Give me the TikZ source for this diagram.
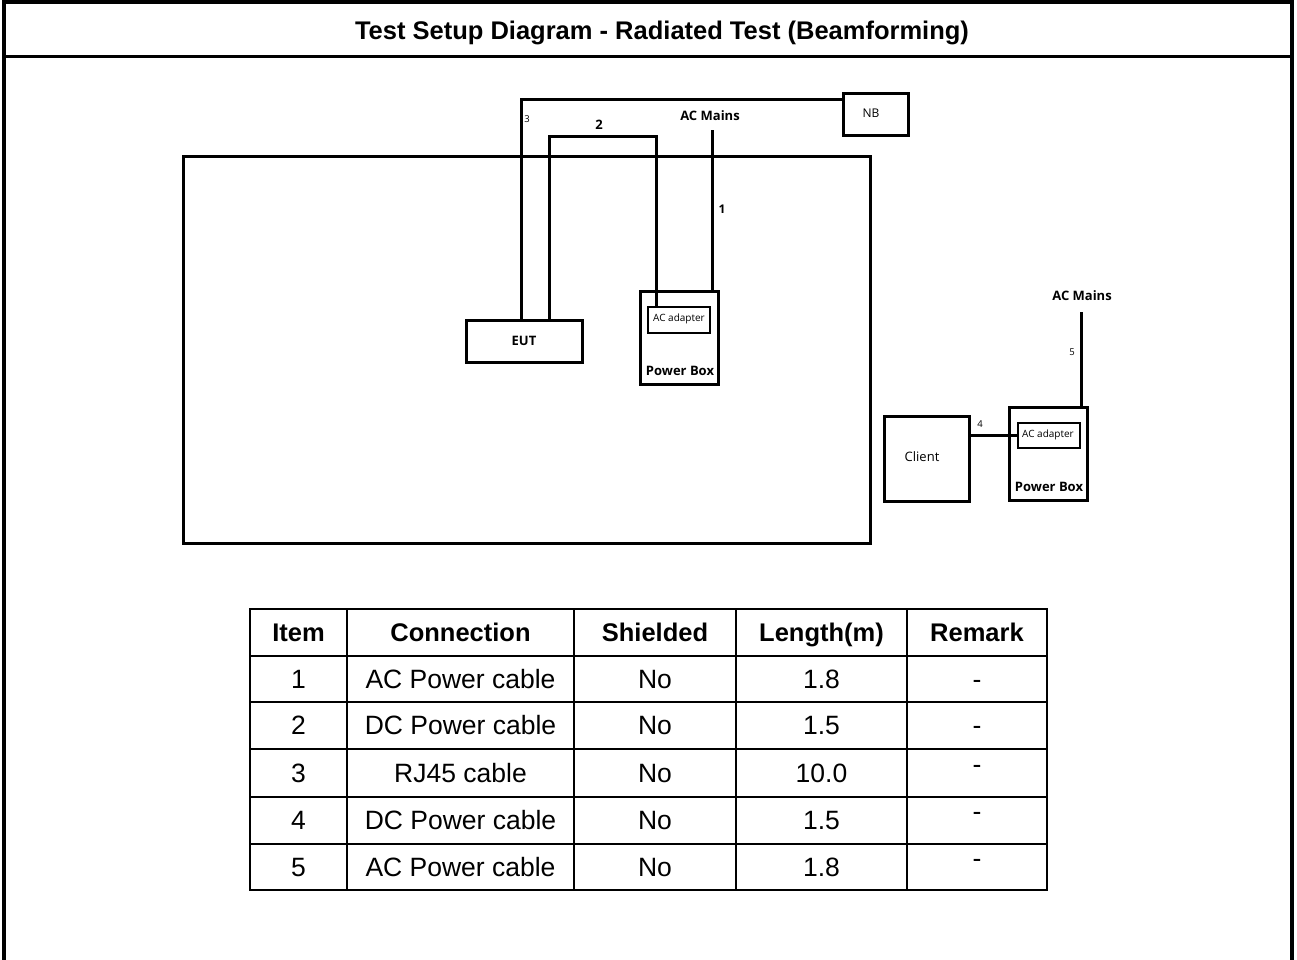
\documentclass[tikz,border=0pt]{standalone}
\usepackage{fontspec}
\setmainfont{Liberation Sans}
\newfontfamily\dfont{Open Sans}
\begin{document}
\begin{tikzpicture}[x=1pt,y=-1pt,
  box/.style={draw,line width=3pt,rectangle,inner sep=0pt,outer sep=0pt},
  cable/.style={line width=3pt},
  dlab/.style={font=\dfont\fontsize{13}{15}\selectfont,inner sep=0pt},
  dlabb/.style={font=\dfont\bfseries\fontsize{13}{15}\selectfont,inner sep=0pt},
  small/.style={font=\dfont\fontsize{9.5}{11}\selectfont,inner sep=0pt},
  tab/.style={line width=2pt},
  th/.style={font=\bfseries\fontsize{25.5}{28}\selectfont,inner sep=0pt,anchor=base},
  td/.style={font=\fontsize{26.5}{28}\selectfont,inner sep=0pt,anchor=base}]
\useasboundingbox (0,0) rectangle (1297,960);
% outer frame
\draw[line width=4pt] (4,960) -- (4,2.5) -- (1292,2.5) -- (1292,960);
\draw[line width=3pt] (4,57) -- (1292,57);
\node[font=\bfseries\fontsize{25.5}{28}\selectfont,inner sep=0pt,anchor=base] (title) at (662,40) {Test Setup Diagram - Radiated Test (Beamforming)};
% big table
\draw[box] (183,157) rectangle (870,543);
% boxes
\node[box,minimum width=116,minimum height=42] (eut) at (524,341) {};
\node[dlab] at (524,341) {\bfseries EUT};
\node[box,minimum width=78,minimum height=93] (pb1) at (679,337.5) {};
\node[box,line width=2.5pt,minimum width=62,minimum height=26] (ad1) at (679,320) {};
\node[small,font=\dfont\fontsize{10}{12}\selectfont] at (679,319) {AC adapter};
\node[dlabb] at (680,371) {Power Box};
\node[box,minimum width=65,minimum height=42] (nb) at (875.5,115) {};
\node[small,font=\dfont\fontsize{12}{14}\selectfont] at (871,113) {NB};
\node[box,minimum width=78,minimum height=93] (pb2) at (1048,453.5) {};
\node[box,line width=2.5pt,minimum width=62,minimum height=25] (ad2) at (1049,435.5) {};
\node[small,font=\dfont\fontsize{10}{12}\selectfont] at (1048,435) {AC adapter};
\node[dlabb] at (1049,487) {Power Box};
\node[box,minimum width=85,minimum height=85] (client) at (926.5,458.5) {};
\node[dlab] at (922,457) {Client};
% AC mains points
\coordinate (acm1) at (712,130);
\coordinate (acm2) at (1081,312);
\node[dlabb] at (710,116) {AC Mains};
\node[dlabb] at (1082,296) {AC Mains};
% cables
\draw[cable] ([xshift=-3]eut.north) |- ([yshift=15]nb.west);
\draw[cable] ([xshift=25]eut.north) -- ++(0,-183) -| ([xshift=-23]ad1.north);
\draw[cable] ([xshift=33]pb1.north) -- (acm1);
\draw[cable] ([xshift=33]pb2.north) -- (acm2);
\draw[cable] (ad2.west -| client.east) -- (ad2.west);
% cable labels
\node[small] at (527,119) {3};
\node[dlabb] at (599,125) {2};
\node[dlab,font=\dfont\bfseries\fontsize{12}{14}\selectfont] at (722,209) {1};
\node[small] at (1072,352) {5};
\node[small] at (980,424) {4};
% table
\draw[tab] (250,609) rectangle (1047,890);
\foreach \yy in {656,702,749,797,844} \draw[tab] (250,\yy) -- (1047,\yy);
\foreach \xx in {347,574,736,907} \draw[tab] (\xx,609) -- (\xx,890);
\node[th] at (298.5,641) {Item};
\node[th] at (460.5,641) {Connection};
\node[th] at (655,641) {Shielded};
\node[th] at (821.5,641) {Length(m)};
\node[th] at (977,641) {Remark};
\foreach \r/\yc/\it/\con/\len/\dy in {1/679/1/AC Power cable/1.8/0, 2/725/2/DC Power cable/1.5/0, 3/773/3/RJ45 cable/10.0/-9, 4/820/4/DC Power cable/1.5/-9, 5/867/5/AC Power cable/1.8/-9} {
  \node[td] (i\r) at (298.5,\yc+9.5) {\it};
  \node[td] (c\r) at (460.5,\yc+9.5) {\con};
  \node[td] (s\r) at (655,\yc+9.5) {No};
  \node[td] (l\r) at (821.5,\yc+9.5) {\len};
  \node[td] (m\r) at (977,\yc+9.5+\dy) {-};
}
\end{tikzpicture}
\end{document}
